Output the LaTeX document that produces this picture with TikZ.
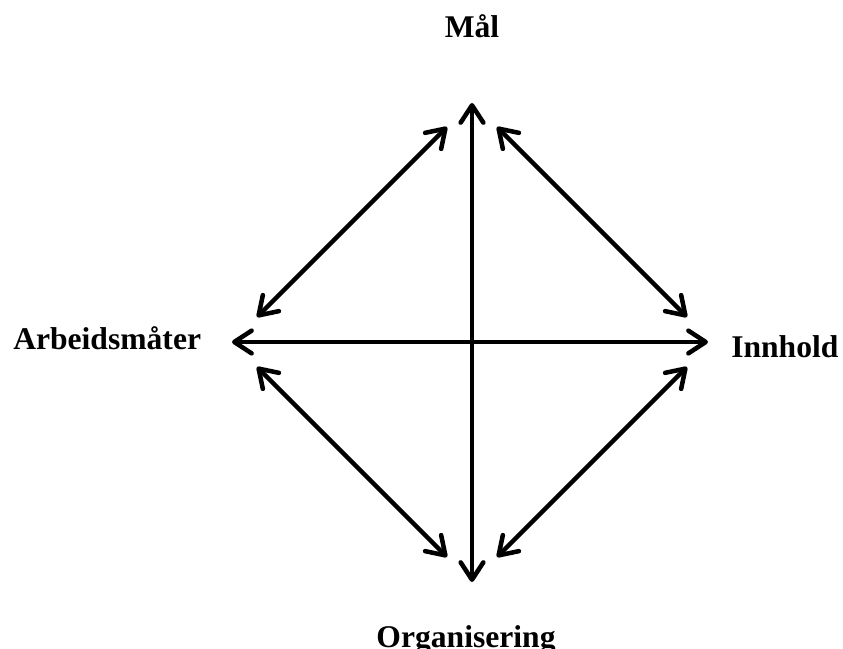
\documentclass[tikz,border=0pt]{standalone}
\usepackage{fontspec}
\setmainfont{Liberation Serif}
\usetikzlibrary{arrows.meta}

\begin{document}
\begin{tikzpicture}[x=0.75pt,y=-0.75pt,
       >={Straight Barb[length=13pt,width=17pt,round]},
       arr/.style={line width=3.4pt,line cap=round,<->},
       lbl/.style={inner sep=0pt,font=\fontsize{23.7}{28}\selectfont\bfseries}]
       \useasboundingbox (0,0) rectangle (843,649);
       \node[lbl,anchor=base] (maal) at (472,38) {Mål};
       \node[lbl,anchor=base west] (arb) at (13,349) {Arbeidsmåter};
       \node[lbl,anchor=base west] (inn) at (731,357) {Innhold};
       \node[lbl,anchor=base] (org) at (466,647) {Organisering};
       \coordinate (top) at (472,103);
       \coordinate (bot) at (472,582);
       \coordinate (lft) at (232,342);
       \coordinate (rgt) at (708,342);
       \coordinate (tl1) at (447,127);
       \coordinate (tl2) at (257,317);
       \coordinate (tr1) at (497,127);
       \coordinate (tr2) at (687,317);
       \coordinate (bl1) at (257,367);
       \coordinate (bl2) at (447,557);
       \coordinate (br1) at (687,367);
       \coordinate (br2) at (497,557);
       \draw[arr] (top) -- (bot);
       \draw[arr] (lft) -- (rgt);
       \draw[arr] (tl1) -- (tl2);
       \draw[arr] (tr1) -- (tr2);
       \draw[arr] (bl1) -- (bl2);
       \draw[arr] (br1) -- (br2);
\end{tikzpicture}
\end{document}
